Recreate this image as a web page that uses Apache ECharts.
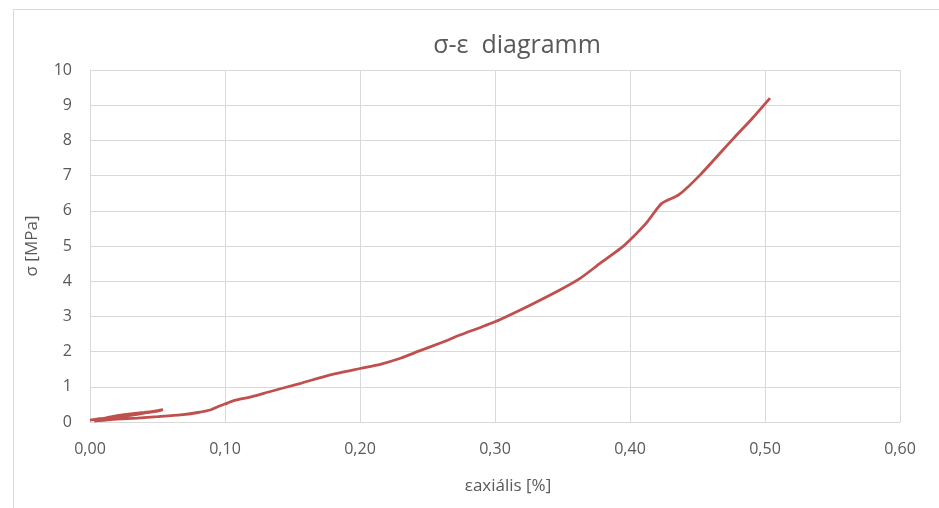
<!DOCTYPE html>
<html>
<head>
<meta charset="utf-8">
<script src="https://cdn.jsdelivr.net/npm/echarts@6/dist/echarts.min.js"></script>
<style>
html, body { margin: 0; padding: 0; background: #fff; }
#main { width: 939px; height: 508px; }
</style>
</head>
<body>
<div id="main"></div>
<script>
// strain [%] and stress [MPa]
var strain = [0.000, 0.005, 0.012, 0.020, 0.030, 0.040, 0.048, 0.054,
	0.050, 0.040, 0.030, 0.020, 0.010, 0.003,
	0.010, 0.020, 0.035, 0.050, 0.067, 0.080, 0.089, 0.095, 0.100, 0.106, 0.120, 0.133,
	0.156, 0.178, 0.200, 0.215, 0.230, 0.244, 0.260, 0.274, 0.300, 0.326, 0.348, 0.363,
	0.378, 0.393, 0.400, 0.412, 0.4235, 0.436, 0.452, 0.4765, 0.490, 0.5037];
var stress = [0.05, 0.08, 0.12, 0.18, 0.23, 0.27, 0.31, 0.35,
	0.31, 0.25, 0.19, 0.13, 0.07, 0.03,
	0.05, 0.08, 0.11, 0.15, 0.20, 0.27, 0.34, 0.44, 0.51, 0.60, 0.72, 0.86,
	1.10, 1.34, 1.52, 1.64, 1.81, 2.02, 2.25, 2.47, 2.85, 3.32, 3.75, 4.08,
	4.51, 4.93, 5.17, 5.65, 6.21, 6.45, 7.02, 8.05, 8.60, 9.20];
var xTicks = ['0,00', '0,10', '0,20', '0,30', '0,40', '0,50', '0,60'];

var points = strain.map(function (x, i) { return [x, stress[i]]; });
var fontFam = 'Open Sans';

var myChart = echarts.init(document.getElementById('main'));
var option = {
	animation: false,
	title: {
		text: 'σ-ε  diagramm',
		left: 512,
		top: 28,
		textAlign: 'center',
		textStyle: { color: '#595959', fontSize: 25, fontWeight: 'normal', fontFamily: fontFam }
	},
	graphic: [{
		type: 'polyline',
		shape: { points: [[13.5, 520], [13.5, 9.5], [939, 9.5]] },
		style: { stroke: '#d9d9d9', lineWidth: 1, fill: null },
		silent: true
	}],
	grid: { left: 90, right: 39, top: 70, bottom: 86 },
	xAxis: {
		type: 'value',
		min: 0,
		max: 0.6,
		interval: 0.1,
		name: 'εaxiális [%]',
		nameLocation: 'middle',
		nameGap: 56,
		nameTextStyle: { color: '#595959', fontSize: 17, fontFamily: fontFam, padding: [0, 0, 0, 26] },
		axisLine: { show: true, lineStyle: { color: '#d9d9d9' } },
		axisTick: { show: false },
		axisLabel: {
			color: '#595959', fontSize: 16, fontFamily: fontFam, margin: 19,
			formatter: function (v) { return xTicks[Math.round(v * 10)]; }
		},
		splitLine: { show: true, lineStyle: { color: '#d9d9d9' } }
	},
	yAxis: {
		type: 'value',
		min: 0,
		max: 10,
		interval: 1,
		name: 'σ [MPa]',
		nameLocation: 'middle',
		nameGap: 49,
		nameTextStyle: { color: '#595959', fontSize: 17, fontFamily: fontFam },
		axisLine: { show: true, lineStyle: { color: '#d9d9d9' } },
		axisTick: { show: false },
		axisLabel: { color: '#595959', fontSize: 16, fontFamily: fontFam, margin: 18 },
		splitLine: { show: true, lineStyle: { color: '#d9d9d9' } }
	},
	series: [{
		type: 'line',
		data: points,
		showSymbol: false,
		smooth: 0.2,
		lineStyle: { color: '#c0504d', width: 2.8 },
		itemStyle: { color: '#c0504d' }
	}]
};
myChart.setOption(option);
</script>
</body>
</html>
